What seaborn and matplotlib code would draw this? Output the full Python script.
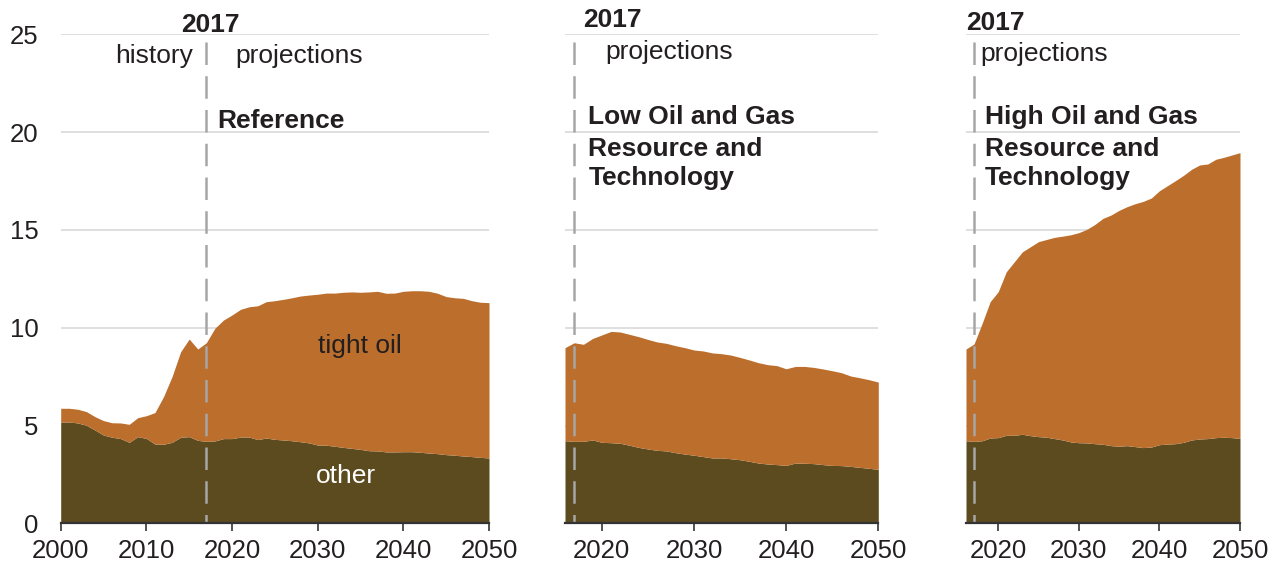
import numpy as np
import matplotlib
matplotlib.use("Agg")
import matplotlib.pyplot as plt
import seaborn as sns

# --- data (million barrels per day) ---
years_ref = np.arange(2000, 2051)
other_ref = [5.18, 5.18, 5.13, 5.01, 4.77, 4.51, 4.40, 4.33, 4.14, 4.43,
             4.34, 4.05, 4.04, 4.14, 4.40, 4.43, 4.24, 4.19, 4.21, 4.33,
             4.33, 4.41, 4.41, 4.28, 4.36, 4.29, 4.26, 4.22, 4.17, 4.11,
             4.00, 3.99, 3.94, 3.88, 3.83, 3.78, 3.71, 3.70, 3.65, 3.65,
             3.66, 3.66, 3.63, 3.59, 3.56, 3.51, 3.48, 3.44, 3.41, 3.37, 3.34]
tight_ref = [0.70, 0.70, 0.70, 0.70, 0.68, 0.74, 0.74, 0.80, 0.92, 0.97,
             1.16, 1.61, 2.43, 3.36, 4.37, 4.99, 4.67, 5.04, 5.76, 6.06,
             6.32, 6.53, 6.66, 6.84, 6.97, 7.09, 7.19, 7.31, 7.45, 7.56,
             7.71, 7.78, 7.83, 7.93, 8.00, 8.03, 8.12, 8.16, 8.11, 8.12,
             8.20, 8.23, 8.26, 8.27, 8.20, 8.08, 8.05, 8.06, 7.97, 7.93, 7.94]

years_proj = np.arange(2016, 2051)
other_low = [4.22, 4.19, 4.19, 4.26, 4.14, 4.12, 4.09, 3.99, 3.88, 3.80,
             3.73, 3.70, 3.61, 3.54, 3.48, 3.41, 3.34, 3.34, 3.30, 3.25,
             3.17, 3.08, 3.03, 3.00, 2.96, 3.08, 3.07, 3.05, 3.00, 2.96,
             2.95, 2.91, 2.86, 2.81, 2.76]
tight_low = [4.76, 5.04, 4.96, 5.19, 5.49, 5.69, 5.69, 5.67, 5.66, 5.60,
             5.54, 5.50, 5.47, 5.44, 5.38, 5.40, 5.37, 5.33, 5.30, 5.23,
             5.18, 5.13, 5.08, 5.06, 4.94, 4.94, 4.95, 4.92, 4.89, 4.84,
             4.75, 4.62, 4.58, 4.53, 4.46]

other_high = [4.22, 4.19, 4.22, 4.36, 4.38, 4.50, 4.50, 4.55, 4.48, 4.43,
              4.40, 4.33, 4.26, 4.16, 4.12, 4.11, 4.07, 4.04, 3.97, 3.94,
              3.97, 3.92, 3.87, 3.90, 4.02, 4.05, 4.07, 4.14, 4.26, 4.31,
              4.33, 4.38, 4.40, 4.38, 4.34]
tight_high = [4.69, 4.98, 6.00, 6.97, 7.46, 8.36, 8.87, 9.33, 9.66, 9.97,
              10.11, 10.29, 10.42, 10.59, 10.74, 10.92, 11.21, 11.55, 11.79, 12.06,
              12.22, 12.42, 12.59, 12.73, 12.98, 13.21, 13.45, 13.65, 13.84, 14.01,
              14.04, 14.23, 14.31, 14.45, 14.61]

y_ticks = [0, 5, 10, 15, 20, 25]

ORANGE = "#bc6e2c"
OLIVE = "#5c4b1f"
GRID = "#d9d9d9"
DASH = "#a6a6a6"
TXT = "#231f20"

sns.set_theme(style="white")
plt.rcParams["font.family"] = ["Liberation Sans", "DejaVu Sans"]

W, H = 1276, 569
fig = plt.figure(figsize=(W / 100, H / 100), dpi=100)

y0, y25 = 523.3, 34.3
def make_ax(x_left, x_right):
    return fig.add_axes([x_left / W, 1 - y0 / H, (x_right - x_left) / W, (y0 - y25) / H])

ax1 = make_ax(60.7, 489)
ax2 = make_ax(565, 878.3)
ax3 = make_ax(966, 1240)

panels = [
    (ax1, years_ref, other_ref, tight_ref, (2000, 2050), range(2000, 2051, 10)),
    (ax2, years_proj, other_low, tight_low, (2016, 2050), range(2020, 2051, 10)),
    (ax3, years_proj, other_high, tight_high, (2016, 2050), range(2020, 2051, 10)),
]

for ax, yrs, oth, tgt, xl, xt in panels:
    oth = np.asarray(oth)
    tot = oth + np.asarray(tgt)
    ax.fill_between(yrs, 0, oth, color=OLIVE, lw=0, zorder=2)
    ax.fill_between(yrs, oth, tot, color=ORANGE, lw=0, zorder=2)
    for g in y_ticks[1:]:
        ax.axhline(g, color=GRID, lw=1.2, zorder=1)
    ax.plot([2017, 2017], [24.62, 0], color=DASH, lw=1.8, dashes=(9, 4.5), zorder=3)
    ax.set_xlim(*xl)
    ax.set_ylim(0, 25)
    ax.set_xticks(list(xt))
    ax.set_yticks(y_ticks)
    sns.despine(ax=ax, left=True, top=True, right=True)
    ax.spines["bottom"].set_color("#333333")
    ax.spines["bottom"].set_linewidth(1.6)
    ax.spines["bottom"].set_zorder(4)
    ax.tick_params(axis="x", bottom=True, length=6, width=1.2, color="#333333",
                   labelsize=18.5, labelcolor=TXT, pad=5)
    ax.tick_params(axis="y", left=False, length=0, labelsize=18.5, labelcolor=TXT, pad=16)
    ax.grid(False)
    ax.set_xlabel("")
    ax.set_ylabel("")

ax2.set_yticklabels([])
ax3.set_yticklabels([])

fs = 19
# panel 1 annotations
ax1.text(2017.49, 25.13, "2017", ha="center", va="baseline", fontsize=fs,
         fontweight="bold", color=TXT, clip_on=False)
ax1.text(2015.41, 23.52, "history", ha="right", va="baseline", fontsize=fs, color=TXT)
ax1.text(2020.33, 23.52, "projections", ha="left", va="baseline", fontsize=fs, color=TXT)
ax1.text(2018.25, 20.22, "Reference", ha="left", va="baseline", fontsize=fs,
         fontweight="bold", color=TXT)
ax1.text(2034.94, 8.69, "tight oil", ha="center", va="baseline", fontsize=fs, color=TXT, zorder=5)
ax1.text(2033.35, 2.06, "other", ha="center", va="baseline", fontsize=fs, color="white", zorder=5)

# scenario titles, one text per line
title_lines = [20.40, 18.78, 17.30]

# panel 2 annotations
ax2.text(2017.99, 25.39, "2017", ha="left", va="baseline", fontsize=fs,
         fontweight="bold", color=TXT, clip_on=False)
ax2.text(2020.42, 23.72, "projections", ha="left", va="baseline", fontsize=fs, color=TXT)
for line, yv in zip(["Low Oil and Gas", "Resource and", "Technology"], title_lines):
    ax2.text(2018.53, yv, line, ha="left", va="baseline", fontsize=fs,
             fontweight="bold", color=TXT, zorder=5)

# panel 3 annotations
ax3.text(2016.0, 25.22, "2017", ha="left", va="baseline", fontsize=fs,
         fontweight="bold", color=TXT, clip_on=False)
ax3.text(2017.74, 23.63, "projections", ha="left", va="baseline", fontsize=fs, color=TXT)
for line, yv in zip(["High Oil and Gas", "Resource and", "Technology"], title_lines):
    ax3.text(2018.36, yv, line, ha="left", va="baseline", fontsize=fs,
             fontweight="bold", color=TXT, zorder=5)

fig.savefig("out.png", dpi=100)
